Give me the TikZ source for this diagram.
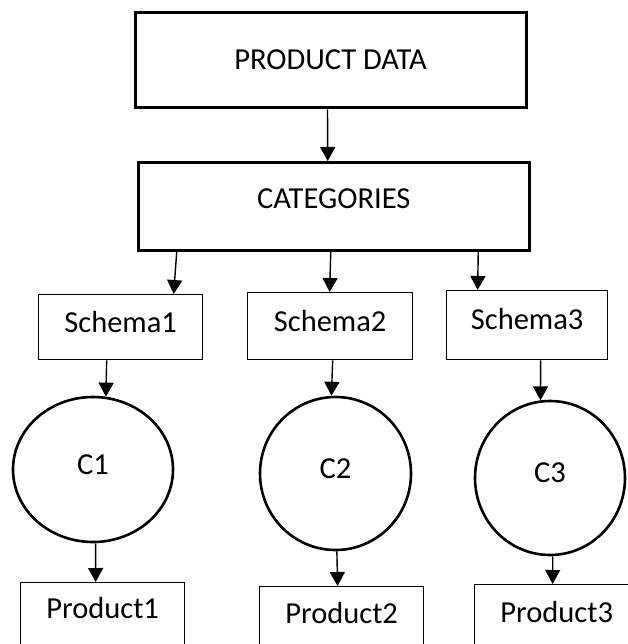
\documentclass[tikz,border=0pt]{standalone}
\usepackage{fontspec}
\setmainfont{Carlito}
\usetikzlibrary{arrows.meta, shapes.geometric}

\begin{document}
\begin{tikzpicture}[x=1pt, y=-1pt, font=\fontsize{30.5}{36}\selectfont,
  bigbox/.style={draw, line width=3pt, anchor=north west, inner sep=0pt},
  smallbox/.style={draw, line width=1.3pt, anchor=north west, inner sep=0pt,
    minimum width=164pt, text height=38pt, text depth=28pt},
  cnode/.style={ellipse, draw, line width=2.6pt, inner sep=0pt,
    text height=20pt, text depth=11pt},
  arr/.style={line width=1.4pt, -{Triangle[length=14pt,width=15pt]}}]
  % page = 627 x 644, one unit = one pixel of the sketch, y runs down
  \useasboundingbox (0,0) rectangle (627,644);
  % Top level.
  \node[bigbox, minimum width=391pt, text height=56.5pt, text depth=38.5pt] (pd)  at (133.5,11.5) {PRODUCT DATA};
  \node[bigbox, minimum width=391.5pt, text height=46pt, text depth=41.5pt] (cat) at (136.5,161)  {CATEGORIES};
  % Schemas.
  \node[smallbox, text depth=27pt]                                (s1) at (38,294)  {Schema1};
  \node[smallbox, minimum width=165pt, text height=39pt]          (s2) at (247,292) {Schema2};
  \node[smallbox, minimum width=161pt, text height=39pt, text depth=30pt] (s3) at (446,290) {Schema3};
  % Category circles.
  \node[cnode, minimum width=160pt, minimum height=145pt] (c1) at (93,469.5)  {C1};
  \node[cnode, minimum width=151pt, minimum height=153pt] (c2) at (335.5,473.5) {C2};
  \node[cnode, minimum width=150pt, minimum height=154pt] (c3) at (550,478)   {C3};
  % Products (cut off by the page edge).
  \node[smallbox, text height=36pt, text depth=30pt] (p1) at (20,582)  {Product1};
  \node[smallbox, text height=37pt]                  (p2) at (259,586) {Product2};
  \node[smallbox]                                    (p3) at (474,584) {Product3};
  % Arrows.
  \draw[arr] ([xshift=-3pt]pd.south)     -- ([xshift=-6pt]cat.north);
  \draw[arr] ([xshift=-157pt]cat.south)  -- ([xshift=53pt]s1.north);
  \draw[arr] ([xshift=-3pt]cat.south)    -- ([xshift=-0.5pt]s2.north);
  \draw[arr] ([xshift=144.5pt]cat.south) -- ([xshift=-49.5pt]s3.north);
  \draw[arr] ([xshift=-14pt]s1.south)    -- (c1.80);
  \draw[arr] ([xshift=2.5pt]s2.south)    -- (c2.93);
  \draw[arr] ([xshift=13.5pt]s3.south)   -- (c3.97);
  \draw[arr] (c1.-88)   -- ([xshift=-7pt]p1.north);
  \draw[arr] (c2.-89)   -- ([xshift=-4pt]p2.north);
  \draw[arr] (c3.-88.5) -- ([xshift=-4pt]p3.north);
\end{tikzpicture}
\end{document}
